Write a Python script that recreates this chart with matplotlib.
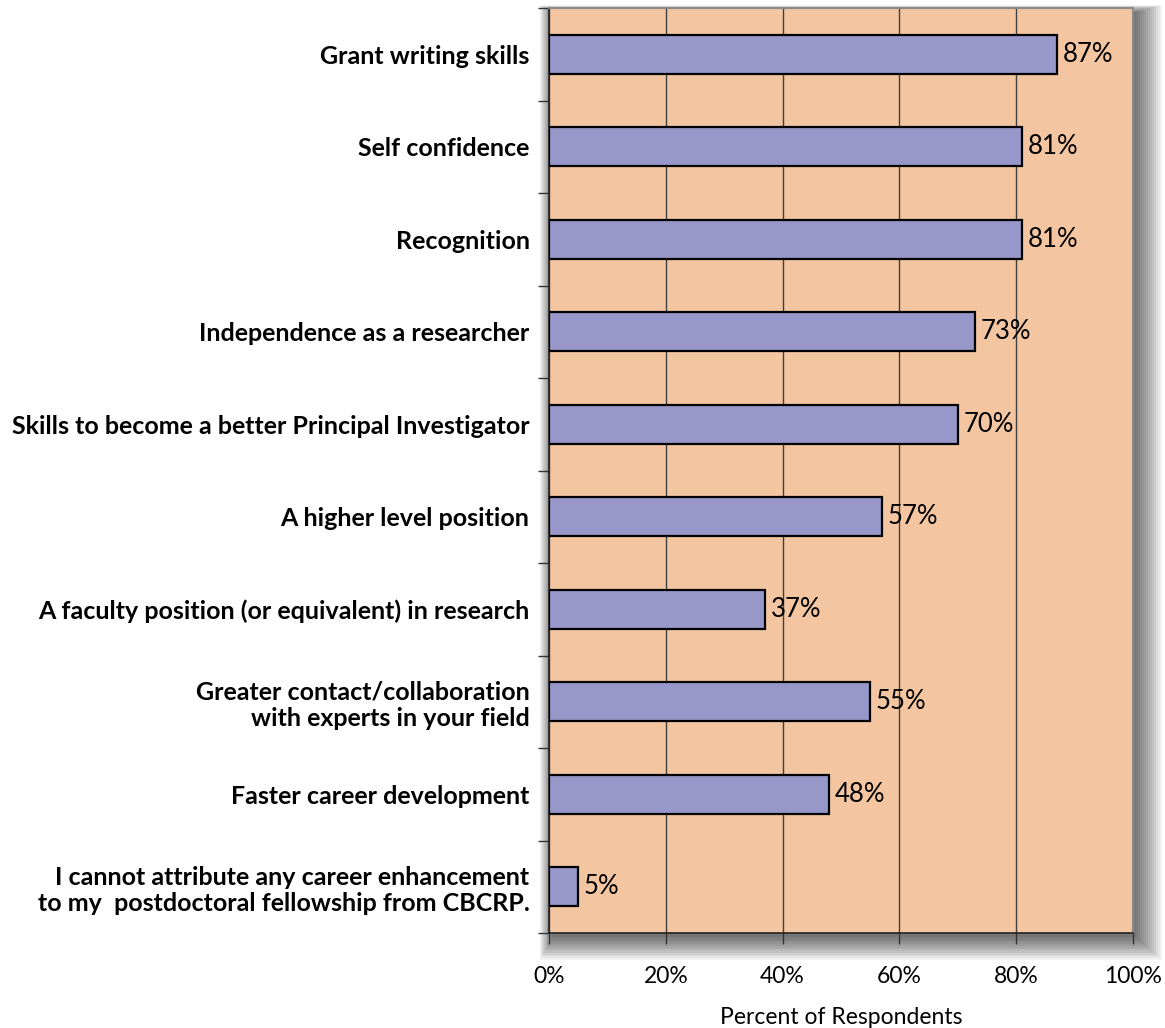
import matplotlib.pyplot as plt
import matplotlib.patches as mpatches
from matplotlib.ticker import MultipleLocator, PercentFormatter

# Survey answers, listed top to bottom
labels = [
    "Grant writing skills",
    "Self confidence",
    "Recognition",
    "Independence as a researcher",
    "Skills to become a better Principal Investigator",
    "A higher level position",
    "A faculty position (or equivalent) in research",
    "Greater contact/collaboration\nwith experts in your field",
    "Faster career development",
    "I cannot attribute any career enhancement\nto my  postdoctoral fellowship from CBCRP.",
]
percents = [87, 81, 81, 73, 70, 57, 37, 55, 48, 5]

plt.rcParams['font.family'] = ['Lato', 'DejaVu Sans']

fig = plt.figure(figsize=(11.65, 10.28), dpi=100)
ax = fig.add_axes([0.4712, 0.0924, 0.5013, 0.8998])

# soft drop shadow behind the plot area
pos = ax.get_position()
for i in range(14):
    grow = i * 0.0017
    fig.patches.append(mpatches.Rectangle(
        (pos.x0 - grow * 0.5 + 0.003, pos.y0 - grow - 0.004),
        pos.width + grow * 1.5, pos.height + grow * 1.3,
        transform=fig.transFigure, facecolor='black', edgecolor='none',
        alpha=0.05, zorder=0))

ax.set_facecolor('#F4C5A1')
ax.set_zorder(1)

y = list(range(len(labels)))
ax.barh(y, percents, height=0.42, color='#9797C9', edgecolor='black',
        linewidth=1.6, zorder=3)
for yi, p in zip(y, percents):
    ax.text(p + 1.0, yi, f"{p}%", va='center', ha='left', fontsize=18.5, zorder=4)

ax.set_xlim(0, 100)
ax.set_ylim(len(labels) - 0.5, -0.5)
ax.xaxis.set_major_locator(MultipleLocator(20))
ax.xaxis.set_major_formatter(PercentFormatter(decimals=0))
ax.grid(axis='x', color='#404040', linewidth=1.0, zorder=1)

ax.set_yticks(y)
ax.set_yticklabels(labels, fontsize=18, fontweight='bold', ha='right',
                   multialignment='right', linespacing=1.15)
ax.set_yticks([i - 0.5 for i in range(len(labels) + 1)], minor=True)
ax.tick_params(axis='y', which='major', length=0, pad=14)
ax.tick_params(axis='y', which='minor', length=8, width=1.0, color='#333333')
ax.tick_params(axis='x', length=8, width=1.0, color='#333333', labelsize=16.5,
               pad=16, direction='out')

for side in ['top', 'right']:
    ax.spines[side].set_color('#8a8a8a')
    ax.spines[side].set_linewidth(1.5)
for side in ['left', 'bottom']:
    ax.spines[side].set_color('#222222')
    ax.spines[side].set_linewidth(1.2)

ax.set_xlabel("Percent of Respondents", fontsize=16.5, labelpad=14)

fig.savefig("out.png", dpi=100)
